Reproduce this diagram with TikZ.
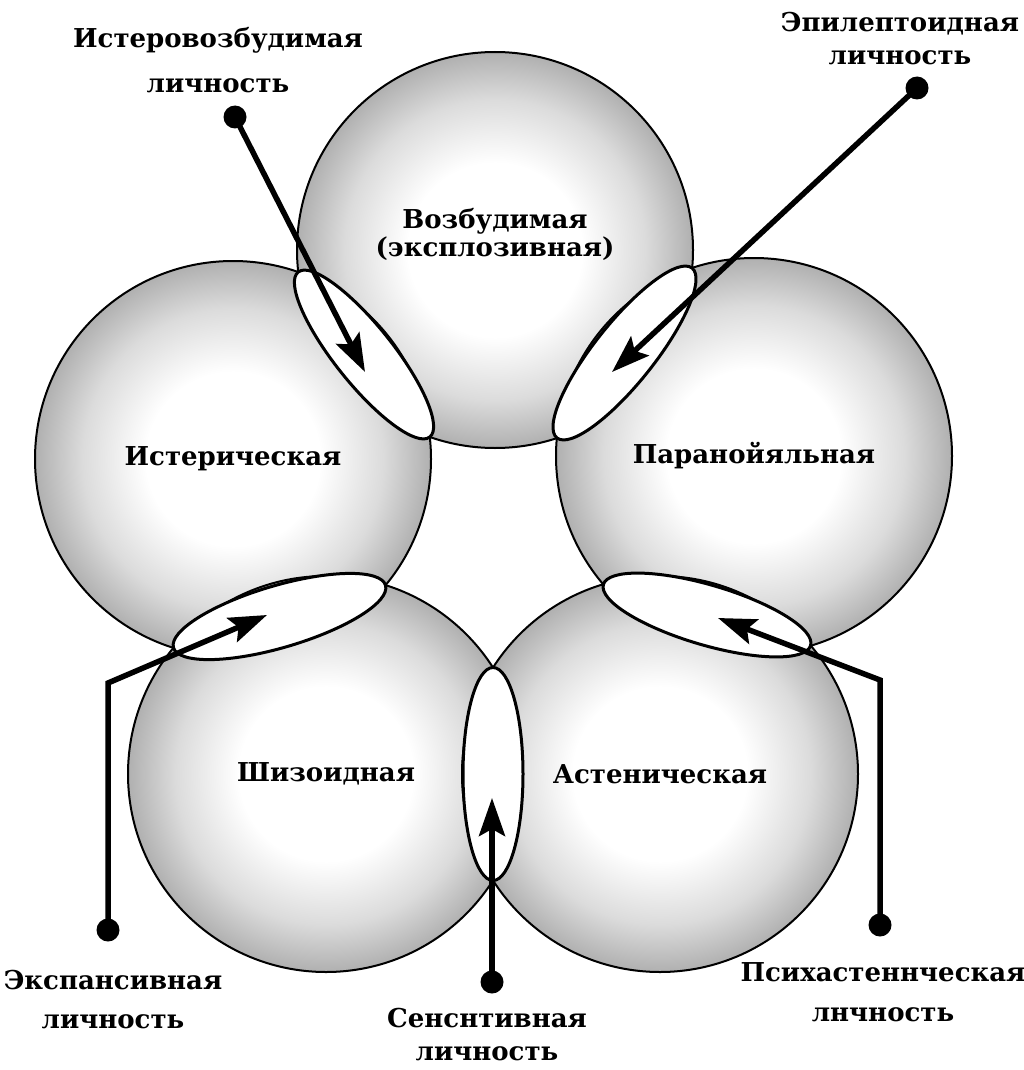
\documentclass[tikz,border=0pt]{standalone}
\usepackage{fontspec}
\setmainfont{DejaVu Serif}
\usetikzlibrary{arrows.meta,positioning,shapes.geometric}
\pgfdeclareradialshading{grain}{\pgfpoint{0bp}{0bp}}{color(0bp)=(white); color(11bp)=(white); color(19bp)=(gray!28); color(25bp)=(gray!62); color(50bp)=(gray!62)}

\begin{document}
\begin{tikzpicture}[x=1pt, y=-1pt, every node/.style={font=\bfseries\fontsize{26}{28}\selectfont}]
\tikzset{ball/.style={circle, draw, line width=2pt, shade, shading=grain, minimum size=396pt, inner sep=0pt, align=center}}
\tikzset{lens/.style={ellipse, draw, line width=3pt, fill=white, inner sep=0pt}}
\tikzset{dot/.style={circle, fill=black, minimum size=23pt, inner sep=0pt}}
\tikzset{pointer/.style={-{Stealth[length=38pt, width=26pt, inset=7pt]}, line width=5.5pt}}
\tikzset{caption/.style={align=center, inner sep=0pt}}
\useasboundingbox (0,0) rectangle (1024,1070);
% five types
\node[ball, text depth=36pt] (excit) at (495,250) {Возбудимая\\(эксплозивная)};
\node[ball] (hyst) at (233,459) {Истерическая};
\node[ball] (para) at (754,456) {Паранойяльная};
\node[ball] (schiz) at (326,774) {Шизоидная};
\node[ball] (asthen) at (660,774) {Астеническая};
% overlaps
\node[lens, rotate=-51.4, minimum width=211pt, minimum height=58pt] (hystexcit) at (364,354.5) {};
\node[lens, rotate=51.5, minimum width=217pt, minimum height=60pt] (excitpara) at (624.5,353) {};
\node[lens, rotate=16.4, minimum width=221pt, minimum height=62pt] (hystschiz) at (279.5,616.5) {};
\node[lens, rotate=-16.4, minimum width=216pt, minimum height=60pt] (paraasthen) at (707,615) {};
\node[lens, minimum width=60pt, minimum height=213pt] (schizasthen) at (493,774) {};
% mixed types
\node[dot] (istdot) at (235,117) {};
\node[dot] (epidot) at (917,88) {};
\node[dot] (expdot) at (108,930) {};
\node[dot] (sensdot) at (492,982) {};
\node[dot] (psydot) at (880,925) {};
\node[caption, above=12pt of istdot, xshift=-17pt] (istlabel) {Истеровозбудимая\\[17pt]личность};
\node[caption, above=11pt of epidot, xshift=-17pt] (epilabel) {Эпилептоидная\\[5pt]личность};
\node[caption, below=28pt of expdot, xshift=5pt] (explabel) {Экспансивная\\[11pt]личность};
\node[caption, below=14pt of sensdot, xshift=-5pt] (senslabel) {Сенснтивная\\[5pt]личность};
\node[caption, below=26pt of psydot, xshift=3pt] (psylabel) {Психастеннческая\\[12pt]лнчность};
\coordinate (isttip) at (365,372);
\coordinate (epitip) at (612,372);
\coordinate (expbend) at (108,683);
\coordinate (exptip) at (267,615);
\coordinate (senstip) at (492,798);
\coordinate (psybend) at (880,680);
\coordinate (psytip) at (718,618);
\draw[pointer] (istdot.center) -- (isttip);
\draw[pointer] (epidot.center) -- (epitip);
\draw[pointer] (expdot.center) -- (expbend) -- (exptip);
\draw[pointer] (sensdot.center) -- (senstip);
\draw[pointer] (psydot.center) -- (psybend) -- (psytip);
\end{tikzpicture}
\end{document}
